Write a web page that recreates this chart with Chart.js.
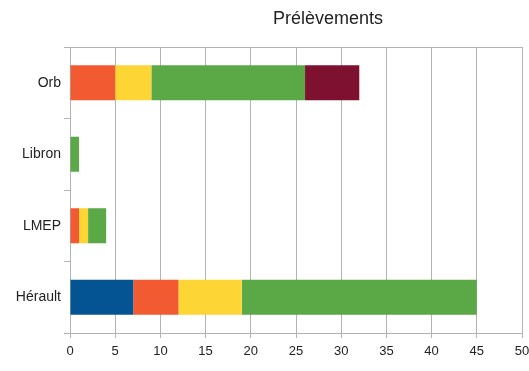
<!DOCTYPE html>
<html>
<head>
<meta charset="utf-8">
<script src="https://cdn.jsdelivr.net/npm/chart.js@4"></script>
<style>
  body { margin: 0; background: #fff; }
  #wrap { position: relative; width: 529px; height: 371px; }
  #title {
    position: absolute; top: 8px; left: 0; width: 656px;
    text-align: center; font: 18px "Liberation Sans", Arial, sans-serif; color: #222;
  }
</style>
</head>
<body>
<div id="wrap">
  <div id="title">Prélèvements</div>
  <canvas id="prelevementsChart" width="529" height="371"></canvas>
</div>
<script>
  // Categories, top to bottom
  const sites = ['Orb', 'Libron', 'LMEP', 'Hérault'];

  // Stacked series values (same order as sites)
  const seriesBlue = [0, 0, 0, 7];
  const seriesOrange = [5, 0, 1, 5];
  const seriesYellow = [4, 0, 1, 7];
  const seriesGreen = [17, 1, 2, 26];
  const seriesDarkRed = [6, 0, 0, 0];

  const xTicks = [0, 5, 10, 15, 20, 25, 30, 35, 40, 45, 50];

  const gridGray = '#b3b3b3';

  const ctx = document.getElementById('prelevementsChart').getContext('2d');
  const chart = new Chart(ctx, {
    type: 'bar',
    data: {
      labels: sites,
      datasets: [
        { label: 'Série 1', data: seriesBlue, backgroundColor: '#045494' },
        { label: 'Série 2', data: seriesOrange, backgroundColor: '#f25a32' },
        { label: 'Série 3', data: seriesYellow, backgroundColor: '#fdd535' },
        { label: 'Série 4', data: seriesGreen, backgroundColor: '#5ba847' },
        { label: 'Série 5', data: seriesDarkRed, backgroundColor: '#7e1030' }
      ]
    },
    options: {
      indexAxis: 'y',
      responsive: false,
      animation: false,
      layout: {
        padding: { top: 47, right: 7, left: 0, bottom: 0 }
      },
      datasets: {
        bar: {
          barPercentage: 0.49,
          categoryPercentage: 1,
          borderWidth: 0
        }
      },
      plugins: {
        legend: { display: false },
        title: { display: false },
        tooltip: { enabled: false }
      },
      scales: {
        x: {
          stacked: true,
          min: 0,
          max: 50,
          afterBuildTicks: scale => {
            scale.ticks = xTicks.map(v => ({ value: v }));
          },
          afterFit: scale => {
            scale.height = 38;
            scale.paddingRight = 0;
            scale.paddingLeft = 0;
          },
          ticks: {
            color: '#222',
            padding: 6,
            font: { family: '"Liberation Sans", Arial, sans-serif', size: 13 }
          },
          grid: {
            color: gridGray,
            tickColor: gridGray,
            tickLength: 5,
            lineWidth: 1
          },
          border: { color: gridGray, width: 1 }
        },
        y: {
          stacked: true,
          afterFit: scale => { scale.width = 70; },
          ticks: {
            color: '#222',
            padding: 3,
            font: { family: '"Liberation Sans", Arial, sans-serif', size: 14 }
          },
          grid: {
            offset: true,
            tickLength: 6,
            tickColor: gridGray,
            color: c => c.index === 0 ? gridGray : 'rgba(0,0,0,0)'
          },
          border: { color: gridGray, width: 1 }
        }
      }
    }
  });
</script>
</body>
</html>
